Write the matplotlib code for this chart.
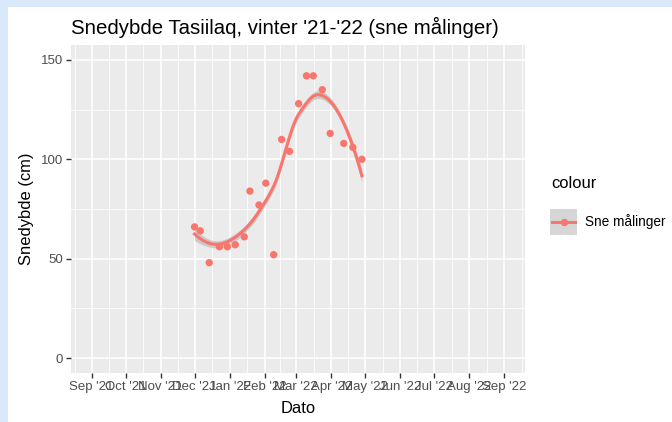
import numpy as np
import matplotlib
matplotlib.use("Agg")
import matplotlib.pyplot as plt
import matplotlib.dates as mdates
from matplotlib.patches import Rectangle
from matplotlib.lines import Line2D

dates = ["2021-12-01", "2021-12-06", "2021-12-14", "2021-12-23", "2021-12-30",
         "2022-01-06", "2022-01-14", "2022-01-19", "2022-01-27", "2022-02-02",
         "2022-02-09", "2022-02-16", "2022-02-23", "2022-03-03", "2022-03-10",
         "2022-03-16", "2022-03-24", "2022-03-31", "2022-04-12", "2022-04-20",
         "2022-04-28"]
depth = [66, 64, 48, 56, 56, 57, 61, 84, 77, 88, 52, 110, 104, 128, 142, 142,
         135, 113, 108, 106, 100]
month_ticks = ["2021-09-01", "2021-10-01", "2021-11-01", "2021-12-01", "2022-01-01",
               "2022-02-01", "2022-03-01", "2022-04-01", "2022-05-01", "2022-06-01",
               "2022-07-01", "2022-08-01", "2022-09-01"]
y_ticks = [0, 50, 100, 150]
series_name = "Sne målinger"

RED = "#F8766D"
plt.rcParams["font.family"] = ["Liberation Sans", "DejaVu Sans"]


def local_rows(x, x0, q):
    """Rows giving value and slope of a tricube-weighted local quadratic at x0."""
    n = len(x)
    d = np.abs(x - x0)
    h = np.sort(d)[q - 1]
    w = np.clip(1 - (d / h) ** 3, 0, None) ** 3
    X = np.column_stack([np.ones(n), x - x0, (x - x0) ** 2])
    XtW = X.T * w
    B = np.linalg.solve(XtW @ X, XtW)
    return B[0], B[1]


def loess(x, xs, span=0.75, cell=0.2):
    """R-like loess: fits at kd-tree vertices, cubic Hermite in between."""
    n = len(x)
    q = int(np.floor(span * n))
    fc = int(np.floor(n * span * cell))
    verts = {x.min(), x.max()}

    def split(pts):
        if len(pts) > fc:
            m = np.median(pts)
            verts.add(m)
            split(pts[pts <= m])
            split(pts[pts > m])

    split(np.sort(x))
    v = np.array(sorted(verts))
    val, slo = zip(*(local_rows(x, vv, q) for vv in v))
    val, slo = np.array(val), np.array(slo)
    L = np.zeros((len(xs), n))
    for k, x0 in enumerate(xs):
        i = min(np.searchsorted(v, x0, side="right") - 1, len(v) - 2)
        hh = v[i + 1] - v[i]
        t = (x0 - v[i]) / hh
        h00 = 2 * t**3 - 3 * t**2 + 1
        h10 = t**3 - 2 * t**2 + t
        h01 = -2 * t**3 + 3 * t**2
        h11 = t**3 - t**2
        L[k] = h00 * val[i] + h10 * hh * slo[i] + h01 * val[i + 1] + h11 * hh * slo[i + 1]
    return L


x = mdates.datestr2num(dates)
y = np.array(depth, dtype=float)
xs = np.linspace(x.min(), x.max(), 120)
L = loess(x, xs)
fit = L @ y
Lx = loess(x, x)
res = y - Lx @ y
M = np.eye(len(x)) - Lx
sigma = np.sqrt(np.sum(res ** 2) / np.trace(M.T @ M))
se = sigma * np.sqrt(np.sum(L ** 2, axis=1))
band = 0.35 * se  # the ribbon in the reference is very thin

fig = plt.figure(figsize=(6.72, 4.22), dpi=100)
fig.patch.set_facecolor("#dae8fc")
fig.patches.append(Rectangle((8 / 672, 0), 1, 1 - 7 / 422, transform=fig.transFigure,
                             facecolor="white", edgecolor="none", zorder=-5))

ax = fig.add_axes([71 / 672, 49 / 422, 454 / 672, 328 / 422])
ax.set_facecolor("#EBEBEB")
for s in ax.spines.values():
    s.set_visible(False)

xt = mdates.datestr2num(month_ticks)
span_x = xt[-1] - xt[0]
ax.set_xlim(xt[0] - 0.05 * span_x, xt[-1] + 0.05 * span_x)
ax.set_ylim(-7.5, 157.5)

minor_x = list((xt[:-1] + xt[1:]) / 2)
minor_x += [xt[0] - (xt[1] - xt[0]) / 2, xt[-1] + (xt[-1] - xt[-2]) / 2]
for v in minor_x:
    ax.axvline(v, color="white", lw=0.55, zorder=1)
for v in xt:
    ax.axvline(v, color="white", lw=1.1, zorder=1)
for v in [25, 75, 125]:
    ax.axhline(v, color="white", lw=0.55, zorder=1)
for v in y_ticks:
    ax.axhline(v, color="white", lw=1.1, zorder=1)

ax.fill_between(xs, fit - band, fit + band, color="#999999", alpha=0.4, lw=0, zorder=2)
ax.plot(xs, fit, color=RED, lw=2.2, zorder=3)
ax.scatter(x, y, s=28, color=RED, edgecolors="none", zorder=4)

ax.set_xticks(xt)
ax.set_xticklabels([mdates.num2date(v).strftime("%b '%y") for v in xt])
ax.set_yticks(y_ticks)
ax.tick_params(axis="both", colors="#333333", labelcolor="#4D4D4D", labelsize=9.5,
               length=3.3, width=1, pad=2.5)
ax.set_xlabel("Dato", fontsize=11.9, labelpad=6)
ax.set_ylabel("Snedybde (cm)", fontsize=11.9, labelpad=5)
ax.set_title("Snedybde Tasiilaq, vinter '21-'22 (sne målinger)", fontsize=14.7,
             loc="left", x=0.0, pad=8)

# legend drawn by hand, ggplot style
ty = lambda py: 1 - py / 422
fig.text(551 / 672, ty(183), "colour", fontsize=11.9, va="center", ha="left")
fig.patches.append(Rectangle((550 / 672, ty(235)), 27 / 672, 26 / 422,
                             transform=fig.transFigure, facecolor="#D6D6D6",
                             edgecolor="none"))
fig.lines.append(Line2D([552 / 672, 575 / 672], [ty(222), ty(222)],
                        transform=fig.transFigure, color=RED, lw=2.2))
fig.lines.append(Line2D([563.5 / 672], [ty(222)], transform=fig.transFigure,
                        color=RED, marker="o", markersize=5.3, markeredgewidth=0))
fig.text(585 / 672, ty(222), series_name, fontsize=9.8, va="center", ha="left")

fig.savefig("out.png", dpi=100, facecolor=fig.get_facecolor())
